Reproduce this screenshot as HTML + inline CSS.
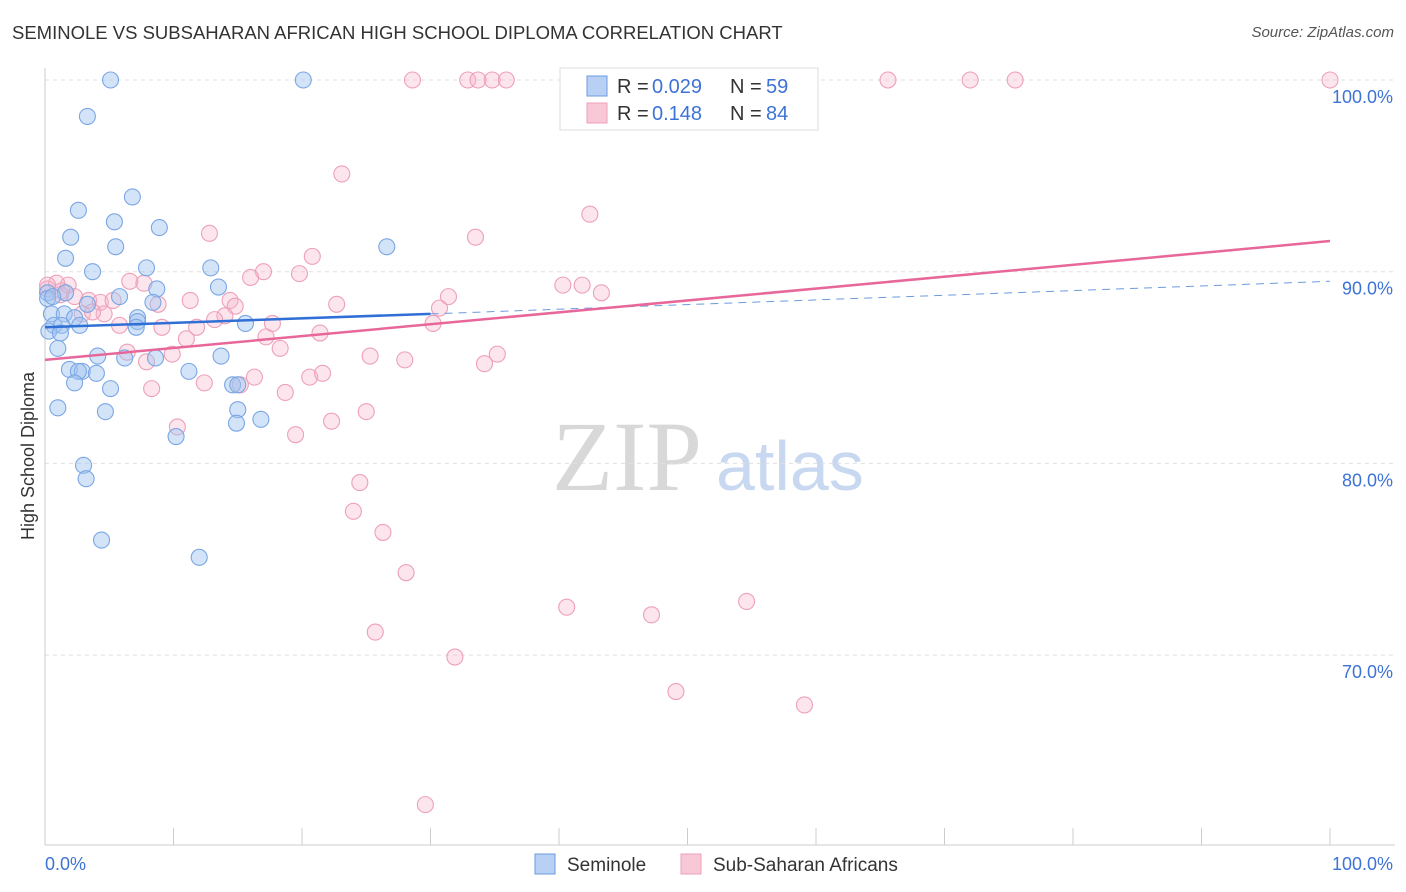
<!DOCTYPE html>
<html><head><meta charset="utf-8">
<style>
body{margin:0;background:#fff;font-family:"Liberation Sans",sans-serif;}
#wrap{position:relative;width:1406px;height:892px;overflow:hidden;}
.t{position:absolute;white-space:nowrap;}
</style></head>
<body>
<div id="wrap">
<div class="t" style="left:12px;top:22px;font-size:18.5px;color:#333">SEMINOLE VS SUBSAHARAN AFRICAN HIGH SCHOOL DIPLOMA CORRELATION CHART</div>
<div class="t" style="right:12px;top:24px;font-size:15px;color:#555;font-style:italic">Source: ZipAtlas.com</div>
<svg id="svg" width="1406" height="892" style="position:absolute;left:0;top:0"></svg>
</div>
<script>
const blueX=[5.1,20.1,3.3,6.8,2.6,5.4,8.9,2.0,5.5,26.6,1.6,3.7,7.9,12.9,8.7,13.5,0.2,5.8,1.6,8.4,3.3,0.5,1.5,2.3,7.2,7.2,0.7,1.3,2.7,7.1,15.6,0.3,1.2,1.0,4.1,6.2,8.6,13.7,1.9,2.9,4.0,2.6,11.2,2.3,5.1,14.6,15.0,4.7,1.0,15.0,16.8,14.9,10.2,3.0,3.2,4.4,12.0,0.2,0.6];
const blueY=[100,100,98.1,93.9,93.2,92.6,92.3,91.8,91.3,91.3,90.7,90.0,90.2,90.2,89.1,89.2,88.9,88.7,88.9,88.4,88.3,87.8,87.8,87.6,87.6,87.4,87.2,87.2,87.2,87.1,87.3,86.9,86.8,86.0,85.6,85.5,85.5,85.6,84.9,84.8,84.7,84.8,84.8,84.2,83.9,84.1,84.1,82.7,82.9,82.8,82.3,82.1,81.4,79.9,79.2,76.0,75.1,88.6,88.7];
const pinkX=[28.6,32.9,33.7,34.8,35.9,52.4,65.6,72.0,75.5,100,23.1,42.4,12.8,33.5,20.8,17.0,16.0,19.8,40.3,41.8,43.3,6.6,7.7,1.8,0.9,0.2,1.2,11.3,3.4,4.3,5.3,8.8,14.4,14.8,22.7,31.4,30.7,14.0,13.2,17.7,30.2,4.6,2.9,5.8,9.1,11.8,11.0,21.4,17.2,18.3,6.4,9.9,7.9,25.3,28.0,35.2,34.2,16.3,20.6,21.6,8.3,12.4,15.2,18.7,25.0,22.3,10.3,19.5,24.5,24.0,26.3,28.1,40.6,47.2,54.6,25.7,31.9,49.1,59.1,29.6,0.2,1.3,2.3,3.7];
const pinkY=[100,100,100,100,100,100,100,100,100,100,95.1,93.0,92.0,91.8,90.8,90.0,89.7,89.9,89.3,89.3,88.9,89.5,89.4,89.3,89.4,89.1,88.8,88.5,88.5,88.4,88.5,88.3,88.5,88.2,88.3,88.7,88.1,87.7,87.5,87.3,87.3,87.8,87.8,87.2,87.1,87.1,86.5,86.8,86.6,86.0,85.8,85.7,85.3,85.6,85.4,85.7,85.2,84.5,84.5,84.7,83.9,84.2,84.1,83.7,82.7,82.2,81.9,81.5,79.0,77.5,76.4,74.3,72.5,72.1,72.8,71.2,69.9,68.1,67.4,62.2,89.3,89.0,88.7,87.9];
const yTicks=[100,90,80,70];
const yTickLabels=["100.0%","90.0%","80.0%","70.0%"];
const blueTrend=[87.1,87.8,89.5]; // at x=0, 30 (solid end), 100
const pinkTrend=[85.4,91.6];      // at x=0, 100

const X=v=>45+v*12.85;
const Y=v=>80+(100-v)*19.17;
const svg=document.getElementById('svg');
const NS='http://www.w3.org/2000/svg';
function mk(tag,attrs){const e=document.createElementNS(NS,tag);for(const k in attrs)e.setAttribute(k,attrs[k]);svg.appendChild(e);return e;}

let w=mk('text',{x:552,y:490,'font-size':100,fill:'#d8d8d8','font-family':'Liberation Serif, serif'});w.textContent='ZIP';


w=mk('text',{x:716,y:490,'font-size':70,fill:'#c8d8f0','font-family':'Liberation Sans, sans-serif'});w.textContent='atlas';



yTicks.forEach((t,i)=>{
 const g=mk('line',{x1:45,x2:1395,y1:Y(t),y2:Y(t),stroke:'#e0e0e0','stroke-dasharray':'4,4'});
 
 
 const l=mk('text',{x:1393,y:Y(t)+23,'text-anchor':'end','font-size':18,fill:'#3d73d6'});l.textContent=yTickLabels[i];
 
 
});
let a=mk('line',{x1:45,x2:45,y1:68,y2:845,stroke:'#ccc'});


a=mk('line',{x1:45,x2:1395,y1:845,y2:845,stroke:'#ccc'});


for(let i=0;i<=10;i++){const tk=mk('line',{x1:X(i*10),x2:X(i*10),y1:828,y2:845,stroke:'#ccc'});
 
 }
let xl=mk('text',{x:45,y:870,'font-size':18,fill:'#3d73d6'});xl.textContent='0.0%';


xl=mk('text',{x:1393,y:870,'font-size':18,fill:'#3d73d6','text-anchor':'end'});xl.textContent='100.0%';


let yt=mk('text',{x:0,y:0,'font-size':18,fill:'#333',transform:'translate(34,456) rotate(-90)','text-anchor':'middle'});yt.textContent='High School Diploma';



pinkX.forEach((x,i)=>{const c=mk('circle',{cx:X(x),cy:Y(pinkY[i]),r:8,fill:'rgba(247,180,202,0.35)',stroke:'#eda0b9','stroke-width':1.1});
 
 });
blueX.forEach((x,i)=>{const c=mk('circle',{cx:X(x),cy:Y(blueY[i]),r:8,fill:'rgba(160,196,240,0.45)',stroke:'#7aa6e4','stroke-width':1.1});
 
 });

let tl=mk('line',{x1:X(30),y1:Y(blueTrend[1]),x2:X(100),y2:Y(blueTrend[2]),stroke:'#6b9be0','stroke-width':1,'stroke-dasharray':'8,6'});


tl=mk('line',{x1:X(0),y1:Y(pinkTrend[0]),x2:X(100),y2:Y(pinkTrend[1]),stroke:'#e8679a','stroke-width':2.5});


tl=mk('line',{x1:X(0),y1:Y(blueTrend[0]),x2:X(30),y2:Y(blueTrend[1]),stroke:'#2f6fd6','stroke-width':2.5});



let lb=mk('rect',{x:560,y:68,width:258,height:62,fill:'#fff',stroke:'#ddd'});


function legRow(y,fill,stroke,r,n,name){
 const s=mk('rect',{x:587,y:y-10,width:20,height:20,fill:fill,stroke:stroke});
 
 
 const t=mk('text',{x:617,y:y+7,'font-size':20,fill:'#333'});
 t.setAttribute('xml:space','preserve');
 t.innerHTML='R = <tspan x="'+(r.length>5?652:652)+'" fill="#3d73d6">'+r+'</tspan><tspan x="730">N = </tspan><tspan x="766" fill="#3d73d6">'+n+'</tspan>';
 
 
}
legRow(86,'#b7d0f3','#6b9be0','0.029','59','seminole');
legRow(113,'#f9c8d7','#eda0b9','0.148','84','subsaharan');

function bl(x,fill,stroke,label,name){
 const s=mk('rect',{x:x,y:854,width:20,height:20,fill:fill,stroke:stroke});
 
 
 const t=mk('text',{x:x+32,y:871,'font-size':19,fill:'#333'});t.textContent=label;
 
 
}
bl(535,'#b7d0f3','#6b9be0','Seminole','seminole');
bl(681,'#f9c8d7','#eda0b9','Sub-Saharan Africans','subsaharan');
</script>
</body></html>
